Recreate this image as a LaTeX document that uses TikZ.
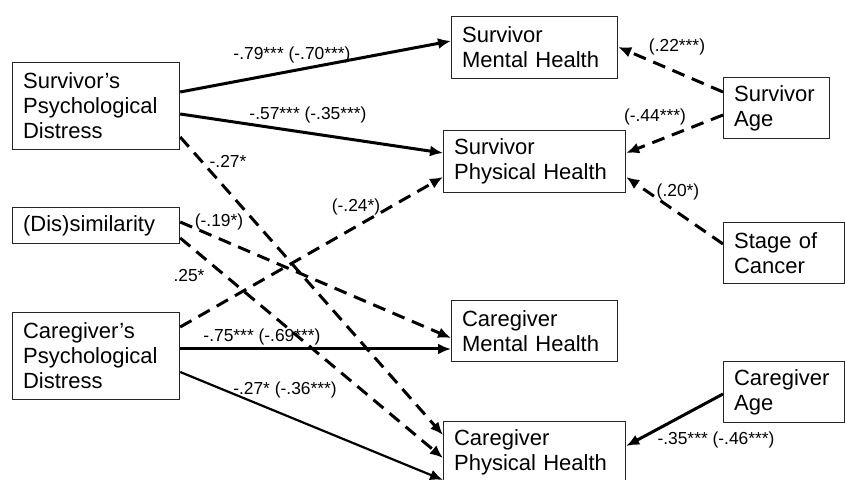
\documentclass[tikz,border=0pt]{standalone}
\usepackage{fontspec}
\setmainfont{Liberation Sans}
\usepackage{tikz}
\usetikzlibrary{arrows.meta}

\begin{document}
\begin{tikzpicture}[x=0.5pt,y=-0.5pt,
  box/.style={draw=black!85,line width=0.6pt,anchor=north west,align=left,
    inner xsep=5.25pt,inner ysep=0pt,font=\fontsize{11}{12.5}\selectfont},
  coef/.style={font=\fontsize{8.7}{10}\selectfont,inner sep=0pt},
  sig/.style={line width=1.5pt,-{Latex[length=6.5pt,width=5.5pt]}},
  ns/.style={sig,dash pattern=on 6.5pt off 4pt}]
  \useasboundingbox (0,0) rectangle (845,480);

  % predictors
  \node[box,text width=73pt,minimum height=43.5pt] (spd) at (12,62) {Survivor’s\\Psychological\\Distress};
  \node[box,text width=73pt,minimum height=18pt] (dis) at (12,207) {(Dis)similarity};
  \node[box,text width=73pt,minimum height=43.5pt] (cpd) at (12,312) {Caregiver’s\\Psychological\\Distress};

  % outcomes
  \node[box,text width=72.5pt,minimum height=31pt] (smh) at (451,16) {Survivor\\Mental Health};
  \node[box,text width=80.5pt,minimum height=31pt] (sph) at (443,130) {Survivor\\Physical Health};
  \node[box,text width=72.5pt,minimum height=30.5pt] (cmh) at (451,300) {Caregiver\\Mental Health};
  \node[box,text width=80.5pt,minimum height=31pt] (cph) at (443,421) {Caregiver\\Physical Health};

  % covariates
  \node[box,text width=42.5pt,minimum height=30.5pt] (sa) at (723,77) {Survivor\\Age};
  \node[box,text width=50pt,minimum height=30.5pt] (soc) at (723,222) {Stage of\\Cancer};
  \node[box,text width=50pt,minimum height=30.5pt] (ca) at (723,361) {Caregiver\\Age};

  % paths
  \draw[sig] (spd.east |- 0,92) -- (smh.west |- 0,41);
  \draw[sig] (spd.east |- 0,114) -- (sph.west |- 0,153);
  \draw[ns] (spd.east |- 0,137) -- (cph.west |- 0,435);
  \draw[ns] (dis.east |- 0,222) -- (cmh.west |- 0,338);
  \draw[ns] (dis.east |- 0,238) -- (cph.west |- 0,458);
  \draw[ns] (cpd.east |- 0,327) -- (sph.west |- 0,177);
  \draw[sig] (cpd.east |- 0,349) -- (cmh.west |- 0,349);
  \draw[sig,line width=1.1pt] (cpd.east |- 0,372) -- (cph.west |- 0,480);
  \draw[ns] (sa.west |- 0,92) -- (smh.east |- 0,47);
  \draw[ns] (sa.west |- 0,115) -- (sph.east |- 0,153);
  \draw[ns] (soc.west |- 0,244) -- (sph.east |- 0,177);
  \draw[sig] (ca.west |- 0,394) -- (cph.east |- 0,446);

  % coefficients
  \node[coef] (c1) at (292,55) {-.79*** (-.70***)};
  \node[coef] (c2) at (308,115) {-.57*** (-.35***)};
  \node[coef] (c3) at (228,161) {-.27*};
  \node[coef] (c4) at (356,207) {(-.24*)};
  \node[coef] (c5) at (219,222) {(-.19*)};
  \node[coef] (c6) at (189,276) {.25*};
  \node[coef] (c7) at (262,337) {-.75*** (-.69***)};
  \node[coef] (c8) at (285,390) {-.27* (-.36***)};
  \node[coef] (c9) at (677,47) {(.22***)};
  \node[coef] (c10) at (655,117) {(-.44***)};
  \node[coef] (c11) at (678,192) {(.20*)};
  \node[coef] (c12) at (716,440) {-.35*** (-.46***)};
\end{tikzpicture}
\end{document}
